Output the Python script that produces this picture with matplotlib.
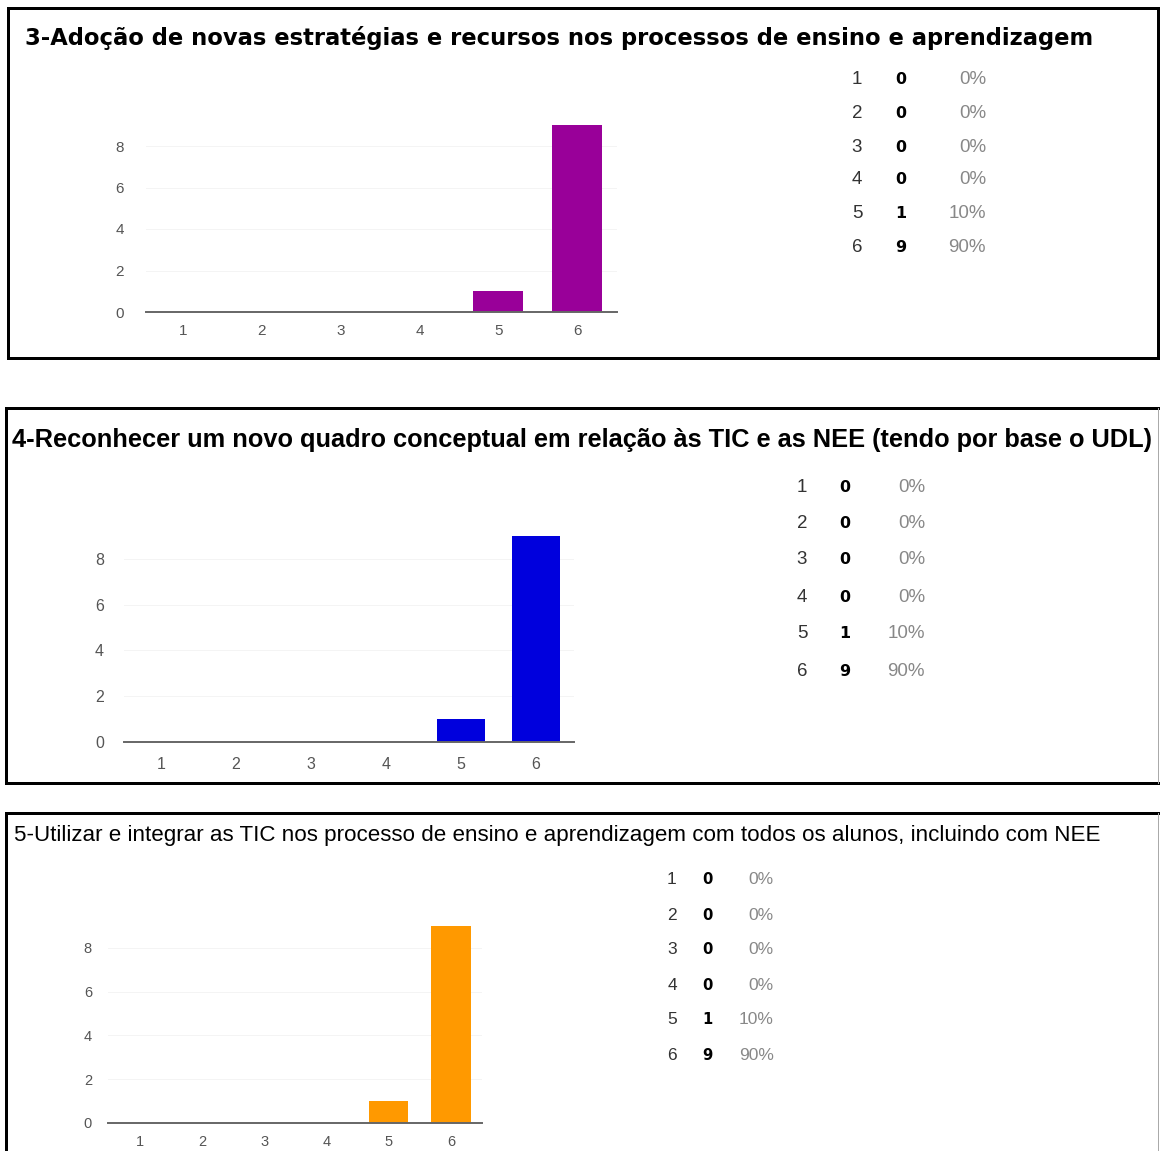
import matplotlib
matplotlib.use("Agg")
import matplotlib.pyplot as plt
from matplotlib.lines import Line2D

W, H = 1160, 1151

categories = [1, 2, 3, 4, 5, 6]
counts_q3 = [0, 0, 0, 0, 1, 9]
counts_q4 = [0, 0, 0, 0, 1, 9]
counts_q5 = [0, 0, 0, 0, 1, 9]
yticks = [0, 2, 4, 6, 8]

titles = [
    "3-Adoção de novas estratégias e recursos nos processos de ensino e aprendizagem",
    "4-Reconhecer um novo quadro conceptual em relação às TIC e as NEE (tendo por base o UDL)",
    "5-Utilizar e integrar as TIC nos processo de ensino e aprendizagem com todos os alunos, incluindo com NEE",
]
colors = ["#990099", "#0000dd", "#ff9900"]

fig = plt.figure(figsize=(W / 100, H / 100), dpi=100)
fig.patch.set_facecolor("white")


def fx(x):
    return x / W


def fy(y):
    return 1 - y / H


def hline(x0, x1, y, lw=3, color="black"):
    fig.add_artist(Line2D([fx(x0), fx(x1)], [fy(y), fy(y)], color=color,
                          lw=lw * 0.72, transform=fig.transFigure,
                          solid_capstyle="projecting"))


def vline(x, y0, y1, lw=3, color="black"):
    fig.add_artist(Line2D([fx(x), fx(x)], [fy(y0), fy(y1)], color=color,
                          lw=lw * 0.72, transform=fig.transFigure,
                          solid_capstyle="projecting"))


def fit_title(text, x0, x1, y, family, weight):
    # scale the font so the title spans the wanted width
    t = fig.text(fx(x0), fy(y), text, family=family, weight=weight,
                 fontsize=12, va="center", ha="left")
    r = fig.canvas.get_renderer()
    for _ in range(3):
        w = t.get_window_extent(r).width
        t.set_fontsize(t.get_fontsize() * (x1 - x0) / w)


def panel(counts, color, left, right, base, unit, c1, c6, ylab_x, xlab_y,
          rows_y, cols_x, fs_tick, fs_leg):
    step = (c6 - c1) / 5
    lo = 1 - (c1 - left) / step
    hi = 6 + (right - c6) / step
    top = 10
    ax_top = base - top * unit
    ax = fig.add_axes([fx(left), fy(base), (right - left) / W,
                       (base - ax_top) / H])
    ax.bar(categories, counts, width=0.63, color=color, linewidth=0, zorder=3)
    ax.set_xlim(lo, hi)
    ax.set_ylim(0, top)
    for s in ["top", "right", "left"]:
        ax.spines[s].set_visible(False)
    ax.spines["bottom"].set_color("#666666")
    ax.spines["bottom"].set_linewidth(1.4)
    ax.spines["bottom"].set_zorder(4)
    ax.set_yticks(yticks)
    ax.yaxis.grid(True, color="#f4f4f4", lw=0.7)
    ax.set_axisbelow(True)
    ax.set_xticks(categories)
    ax.tick_params(length=0, labelcolor="#555555", labelsize=fs_tick)
    ax.tick_params(axis="y", pad=(left - ylab_x - 4) * 0.72)
    ax.tick_params(axis="x", pad=(xlab_y - base - 8) * 0.72)
    for lab in ax.get_xticklabels() + ax.get_yticklabels():
        lab.set_family("Liberation Sans")
    ax.patch.set_alpha(0)

    # response table beside the bars
    total = sum(counts)
    for cat, n, yy in zip(categories, counts, rows_y):
        yy = yy + 2
        fig.text(fx(cols_x[0]), fy(yy), str(cat), ha="center", va="center",
                 fontsize=fs_leg, color="#333333", family="Liberation Sans")
        fig.text(fx(cols_x[1]), fy(yy), str(n), ha="center", va="center",
                 fontsize=fs_leg * 0.85, color="black", weight="heavy",
                 family="DejaVu Sans")
        fig.text(fx(cols_x[2]), fy(yy), f"{round(100 * n / total)}%",
                 ha="right", va="center", fontsize=fs_leg, color="#888888",
                 family="Liberation Sans")


# panel 1
hline(8, 1158, 8)
hline(8, 1158, 358)
vline(8, 8, 358)
vline(1158, 8, 358)
fit_title(titles[0], 25, 1092, 38, "DejaVu Sans", "bold")
panel(counts_q3, colors[0], 146, 617, 312, 20.75, 183, 577, 120, 332,
      [78, 111, 145, 178, 211, 245], [857, 901, 986], 11, 13.5)

# panel 2
hline(6, 1160, 408)
hline(6, 1160, 783)
vline(6, 408, 783)
vline(1158, 408, 783, lw=1, color="#aaaaaa")
fit_title(titles[1], 12, 1151, 440, "Liberation Sans", "bold")
panel(counts_q4, colors[1], 124, 574, 742, 22.9, 161, 536, 100, 765,
      [485, 521, 558, 595, 632, 669], [802, 845, 925], 11.5, 13.5)

# panel 3
hline(6, 1160, 813)
vline(6, 813, 1160)
vline(1158, 813, 1160, lw=1, color="#aaaaaa")
fit_title(titles[2], 14, 1102, 835, "Liberation Sans", "normal")
panel(counts_q5, colors[2], 108, 482, 1123, 21.9, 140, 451, 88, 1143,
      [878, 913, 948, 983, 1018, 1053], [672, 707, 774], 10.5, 12.5)

fig.savefig("out.png", dpi=100, facecolor="white")
